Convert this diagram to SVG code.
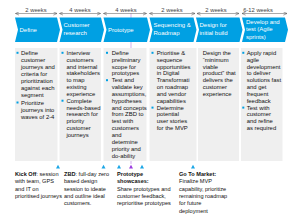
<svg xmlns="http://www.w3.org/2000/svg" width="300" height="214" viewBox="0 0 300 214">
<style>
.hd{fill:#00A0E3}
.bx{fill:#EFEFEF}
.ht{font-family:"Liberation Sans",Arial,sans-serif;font-size:6px;fill:#FFFFFF}
.bt{font-family:"Liberation Sans",Arial,sans-serif;font-size:5.9px;fill:#111111}
.wk{font-family:"Liberation Sans",Arial,sans-serif;font-size:5.8px;fill:#444444;text-anchor:middle}
.ft{font-family:"Liberation Sans",Arial,sans-serif;font-size:5.6px;fill:#111111}
.b{font-weight:bold}
.bl{fill:#00A0E3}
.dur{stroke:#555555;stroke-width:0.5;fill:none;marker-start:url(#ah);marker-end:url(#ah)}
.tri{fill:#1BA6E6}
</style>
<defs>
<marker id="ah" viewBox="0 0 6 6" refX="5.5" refY="3" markerWidth="4" markerHeight="4" orient="auto-start-reverse" markerUnits="userSpaceOnUse">
<path d="M0,0.5 L5.5,3 L0,5.5" fill="none" stroke="#555555" stroke-width="0.8"/>
</marker>
</defs>
<rect width="300" height="214" fill="#FFFFFF"/>

<g id="connectors">
<line x1="131" y1="13.5" x2="131" y2="164" stroke="#B57EE0" stroke-width="0.6"/>
<line class="dur" x1="15.5" y1="13.5" x2="57" y2="13.5"/>
<line class="dur" x1="59.5" y1="13.5" x2="100.5" y2="13.5"/>
<line class="dur" x1="103.5" y1="13.5" x2="146.5" y2="13.5"/>
<line class="dur" x1="149.5" y1="13.5" x2="195" y2="13.5"/>
<line class="dur" x1="197" y1="13.5" x2="239" y2="13.5"/>
<line class="dur" x1="242" y1="13.5" x2="287" y2="13.5"/>
<text class="wk" x="36" y="11.5">2 weeks</text>
<text class="wk" x="80" y="11.5">4 weeks</text>
<text class="wk" x="126" y="11.5">4 weeks</text>
<text class="wk" x="172" y="11.5">2 weeks</text>
<text class="wk" x="216" y="11.5">2 weeks</text>
<text class="wk" x="258" y="11.5">6-12 weeks</text>
</g>

<g id="define">
<polygon class="hd" points="15,17.5 57,17.5 60,29.75 57,42 15,42 18,29.75"/>
<text class="ht" x="19.5" y="32">Define</text>
<rect class="bx" x="15" y="48" width="42.5" height="113"/>
<rect class="bl" x="16.5" y="51.8" width="2" height="2"/>
<rect class="bl" x="16.5" y="101.5" width="2" height="2"/>
<text class="bt" x="21"><tspan x="21" y="54.8">Define</tspan><tspan x="21" dy="7.1">customer</tspan><tspan x="21" dy="7.1">journeys and</tspan><tspan x="21" dy="7.1">criteria for</tspan><tspan x="21" dy="7.1">prioritization</tspan><tspan x="21" dy="7.1">against each</tspan><tspan x="21" dy="7.1">segment</tspan><tspan x="21" dy="7.1">Prioritize</tspan><tspan x="21" dy="7.1">journeys into</tspan><tspan x="21" dy="7.1">waves of 2-4</tspan></text>
</g>

<g id="customer-research">
<polygon class="hd" points="59.5,17.5 101,17.5 104,29.75 101,42 59.5,42 62.5,29.75"/>
<text class="ht"><tspan x="63.5" y="27">Customer</tspan><tspan x="63.5" y="35">research</tspan></text>
<rect class="bx" x="59.5" y="48" width="41.5" height="113"/>
<rect class="bl" x="61.5" y="51.8" width="2" height="2"/>
<rect class="bl" x="61.5" y="99.7" width="2" height="2"/>
<text class="bt"><tspan x="66.5" y="54.8">Interview</tspan><tspan x="66.5" dy="6.85">customers</tspan><tspan x="66.5" dy="6.85">and internal</tspan><tspan x="66.5" dy="6.85">stakeholders</tspan><tspan x="66.5" dy="6.85">to map</tspan><tspan x="66.5" dy="6.85">existing</tspan><tspan x="66.5" dy="6.85">experience</tspan><tspan x="66.5" dy="6.85">Complete</tspan><tspan x="66.5" dy="6.85">needs-based</tspan><tspan x="66.5" dy="6.85">research  for</tspan><tspan x="66.5" dy="6.85">priority</tspan><tspan x="66.5" dy="6.85">customer</tspan><tspan x="66.5" dy="6.85">journeys</tspan></text>
</g>

<g id="prototype">
<polygon class="hd" points="103.5,17.5 147,17.5 150,29.75 147,42 103.5,42 106.5,29.75"/>
<text class="ht" x="108" y="32">Prototype</text>
<rect class="bx" x="103.5" y="48" width="43" height="113"/>
<rect class="bl" x="106" y="51.8" width="2" height="2"/>
<rect class="bl" x="106" y="79.2" width="2" height="2"/>
<text class="bt"><tspan x="111.7" y="54.8">Define</tspan><tspan x="111.7" dy="6.85">preliminary</tspan><tspan x="111.7" dy="6.85">scope for</tspan><tspan x="111.7" dy="6.85">prototypes</tspan><tspan x="111.7" dy="6.85">Test and</tspan><tspan x="111.7" dy="6.85">validate key</tspan><tspan x="111.7" dy="6.85">assumptions,</tspan><tspan x="111.7" dy="6.85">hypotheses</tspan><tspan x="111.7" dy="6.85">and concepts</tspan><tspan x="111.7" dy="6.85">from ZBD to</tspan><tspan x="111.7" dy="6.85">test with</tspan><tspan x="111.7" dy="6.85">customers</tspan><tspan x="111.7" dy="6.85">and</tspan><tspan x="111.7" dy="6.85">determine</tspan><tspan x="111.7" dy="6.85">priority and</tspan><tspan x="111.7" dy="6.85">do-ability</tspan></text>
</g>

<g id="sequencing-roadmap">
<polygon class="hd" points="149.5,17.5 193.5,17.5 196.5,29.75 193.5,42 149.5,42 152.5,29.75"/>
<text class="ht"><tspan x="153.5" y="27">Sequencing &amp;</tspan><tspan x="153.5" y="35">Roadmap</tspan></text>
<rect class="bx" x="149.5" y="48" width="47" height="113"/>
<rect class="bl" x="151.5" y="51.8" width="2" height="2"/>
<rect class="bl" x="151.5" y="106.6" width="2" height="2"/>
<text class="bt"><tspan x="156.7" y="54.8">Prioritise &amp;</tspan><tspan x="156.7" dy="6.85">sequence</tspan><tspan x="156.7" dy="6.85">opportunities</tspan><tspan x="156.7" dy="6.85">in Digital</tspan><tspan x="156.7" dy="6.85">Transformati</tspan><tspan x="156.7" dy="6.85">on roadmap</tspan><tspan x="156.7" dy="6.85">and vendor</tspan><tspan x="156.7" dy="6.85">capabilities</tspan><tspan x="156.7" dy="6.85">Determine</tspan><tspan x="156.7" dy="6.85">potential</tspan><tspan x="156.7" dy="6.85">user stories</tspan><tspan x="156.7" dy="6.85">for the MVP</tspan></text>
</g>

<g id="design-initial-build">
<polygon class="hd" points="196,17.5 239.5,17.5 242.5,29.75 239.5,42 196,42 199,29.75"/>
<text class="ht"><tspan x="199.5" y="27">Design for</tspan><tspan x="199.5" y="35">initial build</tspan></text>
<rect class="bx" x="198" y="48" width="41" height="113"/>
<text class="bt"><tspan x="202.7" y="54.8">Design the</tspan><tspan x="202.7" dy="6.85">“minimum</tspan><tspan x="202.7" dy="6.85">viable</tspan><tspan x="202.7" dy="6.85">product” that</tspan><tspan x="202.7" dy="6.85">delivers the</tspan><tspan x="202.7" dy="6.85">customer</tspan><tspan x="202.7" dy="6.85">experience</tspan></text>
</g>

<g id="develop-test">
<polygon class="hd" points="242,17.5 285,17.5 288,29.75 285,42 242,42 245,29.75"/>
<text class="ht"><tspan x="246" y="23.8">Develop and</tspan><tspan x="246" y="31.3">test (Agile</tspan><tspan x="246" y="38.8">sprints)</tspan></text>
<rect class="bx" x="241" y="48" width="41.5" height="113"/>
<rect class="bl" x="242.3" y="51.8" width="2" height="2"/>
<rect class="bl" x="242.3" y="106.6" width="2" height="2"/>
<text class="bt"><tspan x="246.7" y="54.8">Apply rapid</tspan><tspan x="246.7" dy="6.85">agile</tspan><tspan x="246.7" dy="6.85">development</tspan><tspan x="246.7" dy="6.85">to deliver</tspan><tspan x="246.7" dy="6.85">solutions fast</tspan><tspan x="246.7" dy="6.85">and get</tspan><tspan x="246.7" dy="6.85">frequent</tspan><tspan x="246.7" dy="6.85">feedback</tspan><tspan x="246.7" dy="6.85">Test with</tspan><tspan x="246.7" dy="6.85">customer</tspan><tspan x="246.7" dy="6.85">and refine</tspan><tspan x="246.7" dy="6.85">as required</tspan></text>
</g>

<g id="milestones">
<polygon class="tri" points="58,164.8 56,168.5 60,168.5"/>
<polygon class="tri" points="103.5,164.8 101.5,168.5 105.5,168.5"/>
<polygon class="tri" points="119,164.8 117,168.5 121,168.5"/>
<polygon points="131,164.8 129,168.5 133,168.5" fill="#9B3BE0"/>
<polygon class="tri" points="142,164.8 140,168.5 144,168.5"/>
<polygon class="tri" points="193,164.8 191,168.5 195,168.5"/>
</g>

<g id="kickoff">
<text class="ft"><tspan x="15" y="176"><tspan class="b">Kick Off</tspan>: session</tspan><tspan x="15" dy="7.3">with team, GPS</tspan><tspan x="15" dy="7.3">and IT on</tspan><tspan x="15" dy="7.3">prioritised journeys</tspan></text>
</g>
<g id="zbd">
<text class="ft"><tspan x="64" y="176"><tspan class="b">ZBD</tspan>: full-day zero</tspan><tspan x="64" dy="7.3">based design</tspan><tspan x="64" dy="7.3">session to ideate</tspan><tspan x="64" dy="7.3">and outline ideal</tspan><tspan x="64" dy="7.3">customers.</tspan></text>
</g>
<g id="prototype-showcases">
<text class="ft"><tspan x="117" y="176" class="b">Prototype</tspan><tspan x="117" dy="7.3" class="b">showcases:</tspan><tspan x="117" dy="7.3">Share prototypes and</tspan><tspan x="117" dy="7.3">customer feedback,</tspan><tspan x="117" dy="7.3">reprioritise prototypes</tspan></text>
</g>
<g id="go-to-market">
<text class="ft"><tspan x="179" y="176" class="b">Go To Market:</tspan><tspan x="179" dy="7.3">Finalize MVP</tspan><tspan x="179" dy="7.3">capability, prioritize</tspan><tspan x="179" dy="7.3">remaining roadmap</tspan><tspan x="179" dy="7.3">for future</tspan><tspan x="179" dy="7.3">deployment</tspan></text>
</g>
</svg>
